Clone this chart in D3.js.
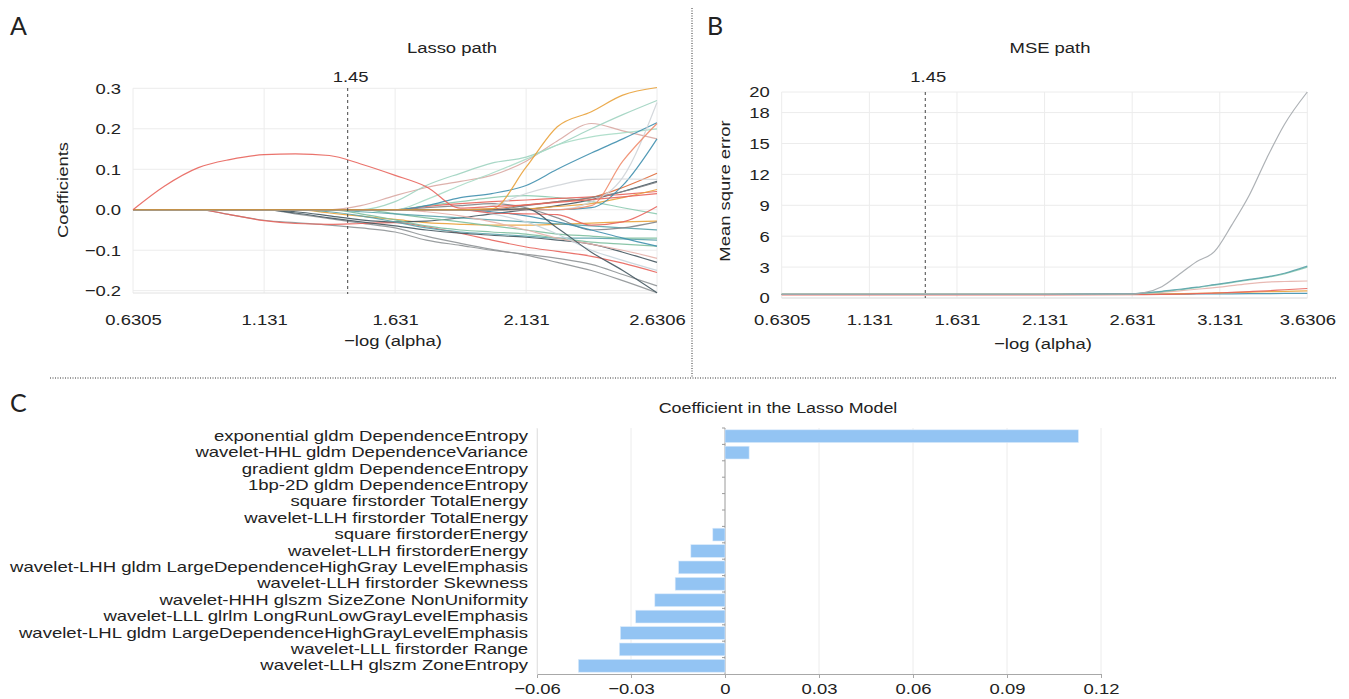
<!DOCTYPE html>
<html>
<head>
<meta charset="utf-8">
<script src="https://cdn.jsdelivr.net/npm/d3@7"></script>
<style>
  body { margin: 0; background: #fff; }
  text { font-family: "Liberation Sans", Arial, Helvetica, sans-serif; fill: #222; }
  .letter { font-family: Lato, "Open Sans", sans-serif; font-size: 25px; }
</style>
</head>
<body>
<script>
// ---- Panel A : lasso path ----
var alphaA = [0.6305, 0.75, 0.88, 1.0, 1.131, 1.25, 1.38, 1.5, 1.631, 1.75, 1.88, 2.0, 2.131, 2.25, 2.38, 2.5, 2.6306];
var ticksXA = [0.6305, 1.131, 1.631, 2.131, 2.6306];
var ticksYA = [-0.2, -0.1, 0.0, 0.1, 0.2, 0.3];

var pathsA = [
  { c: "#8f9396", v: [0, 0, 0, 0, 0, -0.01, -0.022, -0.033, -0.045, -0.065, -0.083, -0.098, -0.112, -0.13, -0.15, -0.175, -0.205] },
  { c: "#8f9396", v: [0, 0, 0, -0.012, -0.026, -0.032, -0.038, -0.045, -0.055, -0.075, -0.088, -0.1, -0.11, -0.12, -0.135, -0.16, -0.188] },
  { c: "#e8645c", v: [0, 0, 0, -0.012, -0.027, -0.034, -0.036, -0.034, -0.032, -0.042, -0.058, -0.075, -0.092, -0.103, -0.115, -0.132, -0.155] },
  { c: "#44565f", v: [0, 0, 0, 0, 0, -0.008, -0.02, -0.03, -0.04, -0.05, -0.058, -0.063, -0.068, -0.075, -0.085, -0.105, -0.13] },
  { c: "#e9a23b", v: [0, 0, 0, 0, 0, 0, -0.008, -0.016, -0.024, -0.032, -0.036, -0.038, -0.038, -0.036, -0.033, -0.03, -0.028] },
  { c: "#44565f", v: [0, 0, 0, 0, 0, -0.005, -0.015, -0.025, -0.03, -0.028, -0.02, -0.01, 0.0, 0.01, 0.025, 0.045, 0.07] },
  { c: "#5aa3ab", v: [0, 0, 0, 0, 0, 0, -0.005, -0.015, -0.03, -0.045, -0.055, -0.06, -0.065, -0.07, -0.07, -0.072, -0.075] },
  { c: "#7dbf9f", v: [0, 0, 0, 0, 0, 0, 0, -0.01, -0.025, -0.04, -0.05, -0.055, -0.06, -0.07, -0.08, -0.085, -0.09] },
  { c: "#7dbf9f", v: [0, 0, 0, 0, 0, 0, 0, 0, -0.01, -0.02, -0.03, -0.04, -0.05, -0.06, -0.065, -0.07, -0.07] },
  { c: "#5aa3ab", v: [0, 0, 0, 0, 0, 0, 0, -0.005, -0.01, -0.015, -0.02, -0.025, -0.03, -0.035, -0.04, -0.045, -0.05] },
  { c: "#e6b1ab", v: [0, 0, 0, 0, 0, 0, 0, 0, 0, -0.005, -0.015, -0.03, -0.05, -0.07, -0.085, -0.1, -0.12] },
  { c: "#c5d4dc", v: [0, 0, 0, 0, 0, 0, 0, 0, 0, 0, 0, -0.01, -0.03, -0.06, -0.1, -0.125, -0.15] },
  { c: "#7f8488", v: [0, 0, 0, 0, 0, 0, 0, 0, 0, 0.005, 0.01, 0.015, 0.005, -0.02, -0.05, -0.045, -0.03] },
  { c: "#8ccab0", v: [0, 0, 0, 0, 0, 0, 0, 0, 0, 0.01, 0.02, 0.03, 0.035, 0.03, 0.02, 0.005, -0.01] },
  { c: "#3f8fae", v: [0, 0, 0, 0, 0, 0, 0, 0, 0, 0, 0, -0.005, -0.015, -0.03, -0.05, -0.07, -0.09] },
  { c: "#e8645c", v: [0, 0, 0, 0, 0, 0, 0, 0, 0, 0, 0, -0.008, -0.01, -0.012, -0.038, -0.03, 0.008] },
  { c: "#e8645c", v: [0, 0, 0, 0, 0, 0, 0, 0, 0, 0.008, 0.015, 0.02, 0.024, 0.028, 0.032, 0.038, 0.045] },
  { c: "#e06a3a", v: [0, 0, 0, 0, 0, 0, 0, 0, 0, 0, 0, 0.002, 0.012, 0.02, 0.03, 0.055, 0.09] },
  { c: "#7f8488", v: [0, 0, 0, 0, 0, 0, 0, 0, 0, 0, 0, 0, 0.01, 0.02, 0.03, 0.045, 0.068] },
  { c: "#e9a23b", v: [0, 0, 0, 0, 0, 0, 0, 0, 0, 0, 0, 0, 0.002, 0.008, 0.015, 0.03, 0.05] },
  { c: "#d9a8a3", v: [0, 0, 0, 0, 0, 0, 0, 0.01, 0.035, 0.055, 0.07, 0.085, 0.12, 0.17, 0.213, 0.195, 0.175] },
  { c: "#9fd3c0", v: [0, 0, 0, 0, 0, 0, 0, 0, 0.02, 0.06, 0.09, 0.115, 0.13, 0.16, 0.2, 0.235, 0.27] },
  { c: "#a8dcc6", v: [0, 0, 0, 0, 0, 0, 0, 0, 0, 0.025, 0.06, 0.09, 0.125, 0.16, 0.18, 0.19, 0.2] },
  { c: "#3f8fae", v: [0, 0, 0, 0, 0, 0, 0, 0, 0, 0.01, 0.03, 0.04, 0.06, 0.1, 0.14, 0.175, 0.215] },
  { c: "#3f8fae", v: [0, 0, 0, 0, 0, 0, 0, 0, 0, 0, 0, 0, 0, 0, 0.005, 0.06, 0.175] },
  { c: "#cfd4d8", v: [0, 0, 0, 0, 0, 0, 0, 0, 0, 0, 0, 0.01, 0.04, 0.06, 0.075, 0.076, 0.075] },
  { c: "#cfd4d8", v: [0, 0, 0, 0, 0, 0, 0, 0, 0, 0, 0, 0, 0, 0, 0.02, 0.08, 0.265] },
  { c: "#ef8c6d", v: [0, 0, 0, 0, 0, 0, 0, 0, 0, 0, 0, 0, 0, 0, 0.01, 0.12, 0.213] },
  { c: "#44565f", v: [0, 0, 0, 0, 0, 0, 0, 0, 0, 0, 0, 0, 0.002, -0.045, -0.105, -0.15, -0.205] },
  { c: "#e9a23b", v: [0, 0, 0, 0, 0, 0, 0, 0, 0, 0, 0, 0.002, 0.105, 0.205, 0.242, 0.283, 0.302] },
  { c: "#e8645c", v: [0, 0.058, 0.104, 0.124, 0.136, 0.138, 0.134, 0.113, 0.085, 0.057, 0.004, 0.008, 0.012, 0.018, 0.025, 0.032, 0.04] }
];

// ---- Panel B : MSE path ----
var alphaB = [0.6305, 1.131, 1.631, 2.131, 2.631, 2.7, 2.8, 2.9, 3.0, 3.1, 3.2, 3.3, 3.4, 3.5, 3.6306];
var ticksXB = [0.6305, 1.131, 1.631, 2.131, 2.631, 3.131, 3.6306];
var ticksYB = [0, 3, 6, 9, 12, 15, 18, 20];

var pathsB = [
  { c: "#3f8fae", v: [0.35, 0.35, 0.35, 0.35, 0.35, 0.36, 0.37, 0.38, 0.39, 0.4, 0.41, 0.42, 0.43, 0.44, 0.45] },
  { c: "#e9a23b", v: [0.35, 0.35, 0.35, 0.35, 0.36, 0.37, 0.39, 0.42, 0.45, 0.49, 0.53, 0.57, 0.61, 0.65, 0.7] },
  { c: "#e8645c", v: [0.3, 0.3, 0.3, 0.3, 0.32, 0.33, 0.35, 0.38, 0.42, 0.48, 0.55, 0.62, 0.7, 0.8, 0.92] },
  { c: "#e6b1ab", v: [0.35, 0.35, 0.35, 0.35, 0.4, 0.45, 0.55, 0.7, 0.85, 1.0, 1.2, 1.4, 1.55, 1.6, 1.65] },
  { c: "#8ccab0", v: [0.35, 0.35, 0.35, 0.35, 0.4, 0.47, 0.6, 0.8, 1.0, 1.25, 1.5, 1.75, 2.0, 2.35, 3.0] },
  { c: "#5aa3ab", v: [0.35, 0.35, 0.35, 0.35, 0.42, 0.5, 0.65, 0.85, 1.05, 1.3, 1.55, 1.8, 2.05, 2.4, 3.09] },
  { c: "#a4a9ad", v: [0.35, 0.35, 0.35, 0.35, 0.4, 0.52, 1.1, 2.3, 3.55, 4.5, 7.1, 10.0, 13.6, 16.85, 20.0] }
];

// ---- Panel C : coefficients ----
var features = [
  "exponential gldm DependenceEntropy",
  "wavelet-HHL gldm DependenceVariance",
  "gradient gldm DependenceEntropy",
  "1bp-2D gldm DependenceEntropy",
  "square firstorder TotalEnergy",
  "wavelet-LLH firstorder TotalEnergy",
  "square firstorderEnergy",
  "wavelet-LLH firstorderEnergy",
  "wavelet-LHH gldm LargeDependenceHighGray LevelEmphasis",
  "wavelet-LLH firstorder Skewness",
  "wavelet-HHH glszm SizeZone NonUniformity",
  "wavelet-LLL glrlm LongRunLowGrayLevelEmphasis",
  "wavelet-LHL gldm LargeDependenceHighGrayLevelEmphasis",
  "wavelet-LLL firstorder Range",
  "wavelet-LLH glszm ZoneEntropy"
];
var coefs = [0.1128, 0.0077, 0, 0, 0, 0, -0.0039, -0.0109, -0.0148, -0.0159, -0.0224, -0.0285, -0.0334, -0.0337, -0.0468];
var ticksXC = [-0.06, -0.03, 0, 0.03, 0.06, 0.09, 0.12];
var tickLabelsC = ["\u22120.06", "\u22120.03", "0", "0.03", "0.06", "0.09", "0.12"];

var svg = d3.select("body").append("svg").attr("width", 1349).attr("height", 699);
var gridCol = "#ececec";
var fs = "15.5px";
var K = 1.19; // the figure's lettering is wide, stretch text horizontally

function stretch(sel, k) {
  sel.each(function () {
    var t = d3.select(this);
    var x = +t.attr("x") || 0;
    t.attr("x", x / k).attr("transform", (t.attr("transform") || "") + " scale(" + k + ",1)");
  });
  return sel;
}

function label(g, x, y, txt, size) {
  return stretch(g.append("text").attr("x", x).attr("y", y).attr("text-anchor", "middle")
    .style("font-size", size || fs).text(txt), K);
}

function linePanel(g, xs, paths, x, y, ticksX, ticksY, fmtY, bottom, padX) {
  // grid
  g.selectAll(".gx").data(ticksX).enter().append("line")
    .attr("x1", d => x(d)).attr("x2", d => x(d))
    .attr("y1", y.range()[1]).attr("y2", bottom)
    .attr("stroke", gridCol);
  g.selectAll(".gy").data(ticksY).enter().append("line")
    .attr("x1", x.range()[0]).attr("x2", x.range()[1])
    .attr("y1", d => y(d)).attr("y2", d => y(d))
    .attr("stroke", gridCol);
  g.append("line").attr("x1", x.range()[0]).attr("x2", x.range()[1])
    .attr("y1", bottom).attr("y2", bottom).attr("stroke", "#e2e2e2");

  var line = d3.line()
    .x((d, i) => x(xs[i]))
    .y(d => y(d))
    .curve(d3.curveMonotoneX);
  g.selectAll(".path").data(paths).enter().append("path")
    .attr("d", d => line(d.v))
    .attr("fill", "none")
    .attr("stroke", d => d.c)
    .attr("stroke-width", 1.2)
    .attr("stroke-opacity", 0.9);

  var ax = g.append("g").attr("transform", "translate(0," + bottom + ")")
    .call(d3.axisBottom(x).tickValues(ticksX).tickSize(0).tickPadding(padX).tickFormat(d => String(d)));
  ax.select(".domain").remove();
  stretch(ax.selectAll("text").style("font-size", fs).attr("fill", "#222"), K);

  var ay = g.append("g").attr("transform", "translate(" + x.range()[0] + ",0)")
    .call(d3.axisLeft(y).tickValues(ticksY).tickSize(0).tickPadding(12).tickFormat(fmtY));
  ay.select(".domain").remove();
  stretch(ay.selectAll("text").style("font-size", fs).attr("fill", "#222"), K);
  return ay;
}

// Panel A
var gA = svg.append("g");
var xA = d3.scaleLinear().domain([0.6305, 2.6306]).range([133, 657]);
var yA = d3.scaleLinear().domain([-0.2, 0.3]).range([290.7, 88.3]);
linePanel(gA, alphaA, pathsA, xA, yA, ticksXA, ticksYA, d3.format(".1f"), 293, 21);
gA.append("line").attr("x1", xA(1.45)).attr("x2", xA(1.45)).attr("y1", 88).attr("y2", 294)
  .attr("stroke", "#444").attr("stroke-dasharray", "3,3");
label(gA, xA(1.45) + 3, 82, "1.45");
label(gA, 452, 53, "Lasso path");
label(gA, 393, 346, "\u2212log (alpha)");
stretch(gA.append("text").attr("transform", "translate(68,190) rotate(-90)").attr("text-anchor", "middle")
  .style("font-size", fs).text("Coefficients"), K);
gA.append("text").attr("class", "letter").attr("x", 10).attr("y", 35).text("A");

// Panel B
var gB = svg.append("g");
var xB = d3.scaleLinear().domain([0.6305, 3.6306]).range([781.7, 1307.3]);
var yB = d3.scaleLinear().domain([0, 20]).range([298, 92]);
var ayB = linePanel(gB, alphaB, pathsB, xB, yB, ticksXB, ticksYB, d3.format("d"), 298, 16);
gB.append("line").attr("x1", xB(1.45)).attr("x2", xB(1.45)).attr("y1", 92).attr("y2", 298)
  .attr("stroke", "#444").attr("stroke-dasharray", "3,3");
label(gB, xB(1.45) + 3, 82, "1.45");
label(gB, 1050, 53, "MSE path");
label(gB, 1043, 349, "\u2212log (alpha)");
stretch(gB.append("text").attr("transform", "translate(730,191) rotate(-90)").attr("text-anchor", "middle")
  .style("font-size", fs).text("Mean squre error"), K);
gB.append("text").attr("class", "letter").attr("x", 707).attr("y", 35).text("B");

// separators
svg.append("line").attr("x1", 692).attr("x2", 692).attr("y1", 8).attr("y2", 378)
  .attr("stroke", "#333").attr("stroke-dasharray", "1,1.5");
svg.append("line").attr("x1", 50).attr("x2", 1336).attr("y1", 378).attr("y2", 378)
  .attr("stroke", "#333").attr("stroke-dasharray", "1,1.5");

// Panel C
var gC = svg.append("g");
var xC = d3.scaleLinear().domain([-0.06, 0.12]).range([537, 1101]);
var yC = d3.scaleBand().domain(features).range([428, 674]).paddingInner(0.22).paddingOuter(0.11);
var topC = 428, botC = 674;

gC.selectAll(".gx").data(ticksXC).enter().append("line")
  .attr("x1", d => xC(d)).attr("x2", d => xC(d))
  .attr("y1", topC).attr("y2", botC)
  .attr("stroke", d => d === 0 ? "#9a9a9a" : gridCol);

gC.selectAll(".bar").data(coefs).enter().append("rect")
  .attr("x", d => xC(Math.min(0, d)))
  .attr("y", (d, i) => yC(features[i]))
  .attr("width", d => Math.abs(xC(d) - xC(0)))
  .attr("height", yC.bandwidth())
  .attr("fill", "#93c4f3")
  .attr("stroke", "#dcebfb")
  .attr("stroke-width", 0.6);

// small ticks on the zero line
gC.selectAll(".zt").data(features).enter().append("line")
  .attr("x1", xC(0) - 3).attr("x2", xC(0))
  .attr("y1", d => yC(d) - yC.step() * yC.paddingInner() / 2)
  .attr("y2", d => yC(d) - yC.step() * yC.paddingInner() / 2)
  .attr("stroke", "#9a9a9a");

var axC = gC.append("g").attr("transform", "translate(0," + botC + ")")
  .call(d3.axisBottom(xC).tickValues(ticksXC).tickSize(4).tickPadding(5).tickFormat((d, i) => tickLabelsC[i]));
axC.select(".domain").attr("stroke", "#a8a8a8");
axC.selectAll(".tick line").attr("stroke", "#a8a8a8");
stretch(axC.selectAll("text").style("font-size", fs).attr("fill", "#222"), K);

var ayC = gC.append("g").attr("transform", "translate(" + xC(-0.06) + ",0)")
  .call(d3.axisLeft(yC).tickSize(0).tickPadding(9));
ayC.select(".domain").attr("stroke", "#e4e4e4");
stretch(ayC.selectAll("text").style("font-size", "14.6px").attr("fill", "#222").attr("dy", "0.32em"), 1.27);

label(gC, 778, 413, "Coefficient in the Lasso Model", "15px");
gC.append("text").attr("class", "letter").attr("x", 10).attr("y", 412).text("C");
</script>
</body>
</html>
